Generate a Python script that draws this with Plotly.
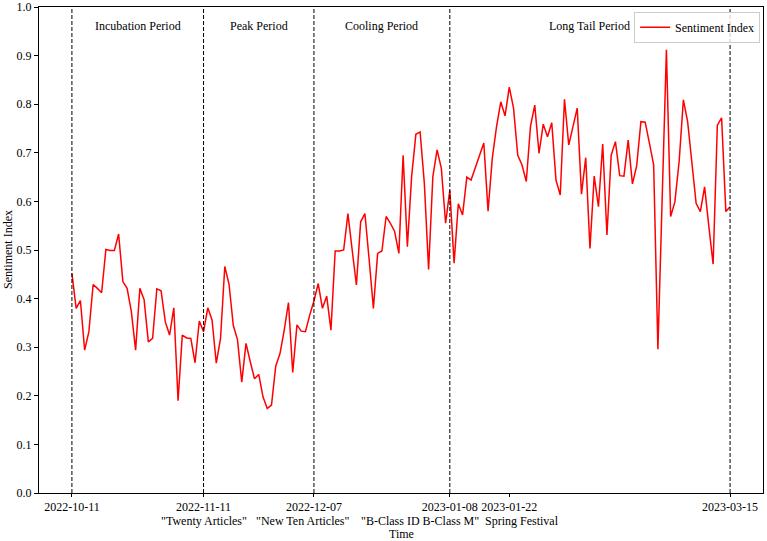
import pandas as pd
import plotly.graph_objects as go

start_date = "2022-10-11"
sentiment = [
    0.452, 0.380, 0.396, 0.294, 0.332, 0.429, 0.421, 0.412, 0.501, 0.499,
    0.499, 0.533, 0.435, 0.421, 0.373, 0.294, 0.421, 0.398, 0.311, 0.318,
    0.420, 0.416, 0.352, 0.325, 0.381, 0.190, 0.325, 0.319, 0.318, 0.268,
    0.354, 0.332, 0.381, 0.356, 0.267, 0.318, 0.466, 0.430, 0.345, 0.315,
    0.228, 0.308, 0.270, 0.235, 0.244, 0.198, 0.174, 0.181, 0.261, 0.287,
    0.335, 0.392, 0.248, 0.346, 0.333, 0.332, 0.366, 0.395, 0.431, 0.380,
    0.405, 0.335, 0.498, 0.498, 0.500, 0.575, 0.500, 0.428, 0.558, 0.575,
    0.480, 0.380, 0.493, 0.498, 0.569, 0.555, 0.538, 0.493, 0.695, 0.507,
    0.651, 0.738, 0.743, 0.637, 0.460, 0.651, 0.706, 0.668, 0.555, 0.623,
    0.473, 0.595, 0.572, 0.650, 0.644, 0.668, 0.692, 0.720, 0.580, 0.689,
    0.754, 0.805, 0.776, 0.835, 0.792, 0.695, 0.675, 0.641, 0.755, 0.798,
    0.699, 0.759, 0.733, 0.762, 0.644, 0.613, 0.810, 0.716, 0.754, 0.792,
    0.615, 0.690, 0.503, 0.652, 0.589, 0.718, 0.531, 0.695, 0.723, 0.653,
    0.652, 0.726, 0.636, 0.673, 0.764, 0.763, 0.720, 0.675, 0.296, 0.600,
    0.912, 0.569, 0.599, 0.682, 0.809, 0.764, 0.678, 0.596, 0.579, 0.630,
    0.548, 0.471, 0.757, 0.772, 0.579, 0.589,
]
dates = pd.date_range(start_date, periods=len(sentiment), freq="D")

tick_dates = ["2022-10-11", "2022-11-11", "2022-12-07", "2023-01-08", "2023-01-22", "2023-03-15"]
period_bounds = ["2022-10-11", "2022-11-11", "2022-12-07", "2023-01-08", "2023-03-15"]
period_names = ["Incubation Period", "Peak Period", "Cooling Period", "Long Tail Period"]
event_dates = ["2022-11-11", "2022-12-07", "2023-01-08", "2023-01-22"]
event_names = ['"Twenty Articles"', '"New Ten Articles"', '"B-Class ID B-Class M"', "Spring Festival"]
event_shift = [0, -11, -30, 13]

FONT = "Liberation Serif, Times New Roman, serif"

fig = go.Figure()
fig.add_trace(go.Scatter(
    x=dates, y=sentiment, mode="lines", name="Sentiment Index",
    line=dict(color="#ff0000", width=1.5),
))

for d in period_bounds:
    fig.add_shape(type="line", xref="x", yref="y", x0=d, x1=d, y0=0, y1=1,
                  line=dict(color="black", width=1, dash="4px,2px"))

pb = pd.to_datetime(period_bounds)
for i, name in enumerate(period_names):
    mid = pb[i] + (pb[i + 1] - pb[i]) / 2
    fig.add_annotation(x=mid, y=0.96, xref="x", yref="y", text=name, showarrow=False,
                       font=dict(size=12, color="black", family=FONT))

for d, name, sh in zip(event_dates, event_names, event_shift):
    fig.add_annotation(x=d, y=-28 / 486, xref="x", yref="paper", text=name, showarrow=False,
                       xshift=sh, yanchor="middle", borderpad=0,
                       font=dict(size=12, color="black", family=FONT))

fig.add_annotation(x=0.5, y=-41 / 486, xref="paper", yref="paper", text="Time", showarrow=False,
                   yanchor="middle", borderpad=0, font=dict(size=12, color="black", family=FONT))
fig.add_annotation(x=-31 / 724, y=0.5, xref="paper", yref="paper", text="Sentiment Index",
                   showarrow=False, textangle=-90, xanchor="center", yanchor="middle",
                   font=dict(size=12, color="black", family=FONT))

d0 = pd.Timestamp(tick_dates[0])
d1 = pd.Timestamp(tick_dates[-1])
pad = (d1 - d0) * 0.05
fig.update_xaxes(
    range=[d0 - pad, d1 + pad], tickvals=tick_dates, ticktext=tick_dates,
    showline=True, mirror=True, linecolor="black", linewidth=1, showgrid=False,
    ticks="outside", ticklen=3, tickcolor="black", zeroline=False, automargin=False,
    tickfont=dict(size=12, color="black", family=FONT),
)
fig.update_yaxes(
    range=[0, 1], tickvals=[i / 10 for i in range(11)], tickformat=".1f",
    showline=True, mirror=True, linecolor="black", linewidth=1, showgrid=False,
    ticks="outside", ticklen=4, tickcolor="black", zeroline=False, automargin=False,
    tickfont=dict(size=12, color="black", family=FONT),
)
fig.update_layout(
    width=767, height=541,
    margin=dict(l=39, r=4, t=7, b=48, autoexpand=False),
    plot_bgcolor="white", paper_bgcolor="white",
    font=dict(family=FONT, size=12, color="black"),
    showlegend=True,
    legend=dict(x=0.996, y=0.99, xanchor="right", yanchor="top",
                bgcolor="rgba(255,255,255,0.8)", bordercolor="#cccccc", borderwidth=1,
                font=dict(size=12, family=FONT)),
)
fig.write_html("out.html", config={"displayModeBar": False},
               post_script="document.body.style.margin='0';document.body.style.overflow='hidden';")
